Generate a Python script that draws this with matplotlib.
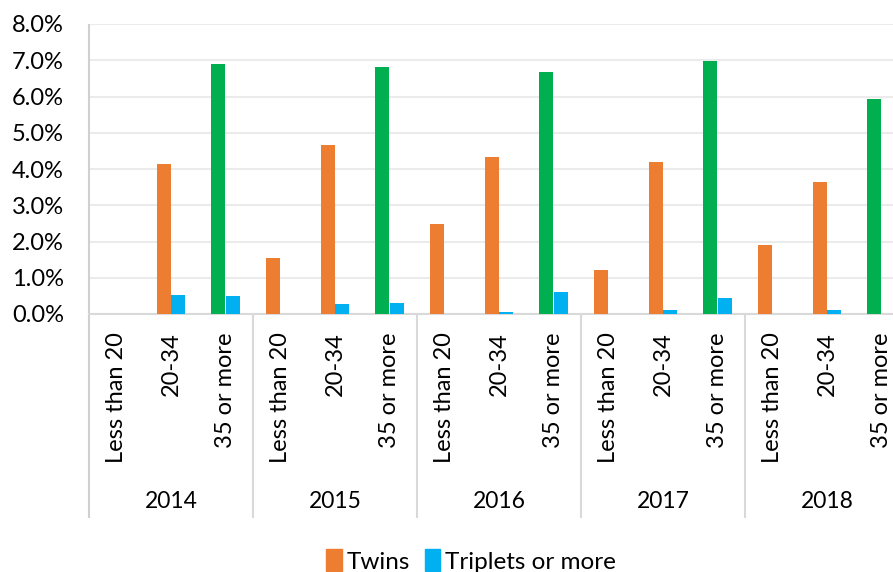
import matplotlib.pyplot as plt
import numpy as np
from matplotlib.patches import Patch

years = ['2014', '2015', '2016', '2017', '2018']
ages = ['Less than 20', '20-34', '35 or more']

# percent values (year by year, age groups in order)
twins = [0.0, 4.14, 6.89,
         1.55, 4.65, 6.81,
         2.49, 4.33, 6.67,
         1.22, 4.19, 6.97,
         1.89, 3.65, 5.93]
triplets = [0.0, 0.53, 0.50,
            0.0, 0.28, 0.31,
            0.0, 0.06, 0.60,
            0.0, 0.10, 0.43,
            0.0, 0.11, 0.0]

orange = '#ED7D31'
green = '#00B050'
blue = '#00B0F0'
twin_colors = [orange, orange, green] * len(years)

fig = plt.figure(figsize=(8.93, 5.72), dpi=100)
W, H = 893, 572
ax = fig.add_axes([89 / W, (H - 314) / H, (909 - 89) / W, 290 / H])

x = np.arange(len(twins))
bw = 0.26
ax.bar(x - bw / 2 - 0.005, twins, bw, color=twin_colors, zorder=3)
ax.bar(x + bw / 2 + 0.005, triplets, bw, color=blue, zorder=3)

ax.set_xlim(-0.5, len(twins) - 0.5)
ax.set_ylim(0, 8)
ax.set_yticks(np.arange(0, 8.1, 1))
ax.set_yticklabels(['%.1f%%' % v for v in np.arange(0, 8.1, 1)],
                   fontfamily='Lato', fontsize=17)
ax.yaxis.grid(True, color='#EBEBEB', linewidth=1.5, zorder=0)
ax.tick_params(axis='y', length=0, pad=18)

ax.set_xticks(x)
ax.set_xticklabels(ages * len(years), rotation=90, fontfamily='Lato',
                   fontsize=17)
ax.tick_params(axis='x', length=0, pad=13)

for s in ['top', 'right', 'left']:
    ax.spines[s].set_visible(False)
ax.spines['bottom'].set_color('#D9D9D9')
ax.spines['bottom'].set_linewidth(1.5)

# year group separators and left axis line
low = -(518 - 314) / 290
bounds = np.arange(len(years) + 1) * len(ages) - 0.5
trans = ax.get_xaxis_transform()
ax.vlines(bounds[1:], low, 0, transform=trans, color='#D9D9D9',
          linewidth=1.5, clip_on=False)
ax.vlines(bounds[0], low, 1, transform=trans, color='#D0D0D0',
          linewidth=1.5, clip_on=False)

ypos = -(502 - 314) / 290
for i, yr in enumerate(years):
    ax.text((bounds[i] + bounds[i + 1]) / 2, ypos, yr, transform=trans,
            ha='center', va='center', fontfamily='Lato', fontsize=16.5)

handles = [Patch(color=orange, label='Twins'),
           Patch(color=blue, label='Triplets or more')]
fig.legend(handles=handles, loc='center', bbox_to_anchor=(471 / W, 1 - 561 / H),
           ncol=2, frameon=False, prop={'family': 'Lato', 'size': 17.5},
           handlelength=0.65, handleheight=1.0, handletextpad=0.2,
           columnspacing=0.6)

plt.savefig('out.png', dpi=100)
